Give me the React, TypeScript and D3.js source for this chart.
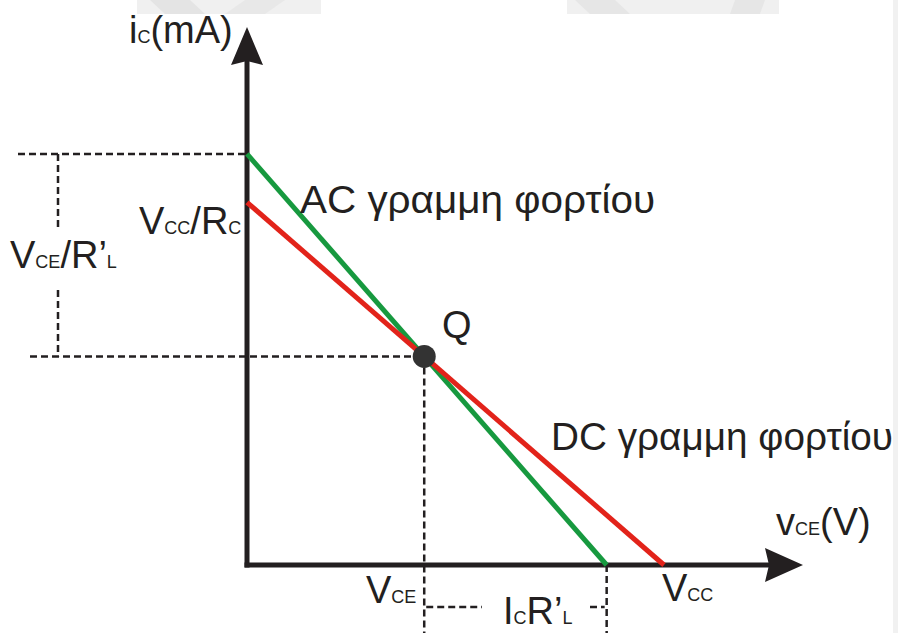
import React from "react";
import * as d3 from "d3";

// Operating point and load-line intercepts (V on the horizontal axis, mA on the vertical)
const axisMax = { v: 16, i: 8.9 };
const vcc = [12];
const dcIntercept = [6.0];
const acIntercept = [6.8];
const acCutoff = [10.35];
const qPoint = [{ v: 5.1, i: 3.45 }];

const dcLine = [
  { v: 0, i: dcIntercept[0] },
  { v: vcc[0], i: 0 },
];
const acLine = [
  { v: 0, i: acIntercept[0] },
  { v: acCutoff[0], i: 0 },
];

const W = 898;
const H = 633;
const FONT = "'Liberation Sans', Arial, sans-serif";
const INK = "#231f20";
const BIG = 38;
const SUB = 18;

export default function App() {
  const x = d3.scaleLinear().domain([0, axisMax.v]).range([247, 803]);
  const y = d3.scaleLinear().domain([0, axisMax.i]).range([565, 27]);
  const line = d3
    .line<{ v: number; i: number }>()
    .x((d) => x(d.v))
    .y((d) => y(d.i));

  const x0 = x(0);
  const y0 = y(0);
  const xEnd = x(axisMax.v);
  const yEnd = y(axisMax.i);
  const q = qPoint[0];
  const qx = x(q.v);
  const qy = y(q.i);
  const acTop = y(acIntercept[0]);
  const acX = x(acCutoff[0]);
  const dash = "7 4";

  return (
    <svg
      width={W}
      height={H}
      style={{ position: "absolute", left: 0, top: 0, background: "#fff" }}
      fontFamily={FONT}
      fill={INK}
    >
      {/* faint background watermark */}
      <g opacity={0.9}>
        <rect x={137} y={0} width={184} height={14} fill="#efefef" />
        <polygon points="150,0 190,0 205,14 165,14" fill="#e2e2e2" />
        <polygon points="245,0 285,0 265,14 225,14" fill="#e6e6e6" />
        <rect x={567} y={0} width={212} height={14} fill="#efefef" />
        <polygon points="575,0 615,0 630,14 590,14" fill="#e4e4e4" />
        <polygon points="735,0 765,0 760,14 730,14" fill="#e4e4e4" />
        <rect x={893} y={0} width={5} height={633} fill="#f0f0f0" />
      </g>

      {/* guide lines */}
      <g stroke={INK} strokeWidth={2.5} strokeDasharray={dash} fill="none">
        <line x1={18} y1={acTop} x2={x0} y2={acTop} />
        <line x1={30} y1={qy} x2={qx} y2={qy} />
        <line x1={58} y1={acTop} x2={58} y2={230} />
        <line x1={58} y1={290} x2={58} y2={qy} />
        <line x1={qx} y1={qy} x2={qx} y2={H} />
        <line x1={acX} y1={y0} x2={acX} y2={H} />
        <line x1={qx + 2} y1={607} x2={482} y2={607} />
        <line x1={590} y1={607} x2={acX - 2} y2={607} />
      </g>

      {/* axes */}
      <g stroke={INK} strokeWidth={5} fill="none">
        <line x1={x0} y1={y0 + 2.5} x2={x0} y2={yEnd + 30} />
        <line x1={x0 - 2.5} y1={y0} x2={xEnd - 30} y2={y0} />
      </g>
      <path
        d={`M${x0},${yEnd} L${x0 + 16},${yEnd + 38} L${x0},${yEnd + 34} L${x0 - 16},${yEnd + 38} Z`}
        fill={INK}
      />
      <path
        d={`M${xEnd},${y0} L${xEnd - 38},${y0 + 17} L${xEnd - 34},${y0} L${xEnd - 38},${y0 - 17} Z`}
        fill={INK}
      />

      {/* load lines */}
      <path d={line(acLine) ?? ""} stroke="#17993f" strokeWidth={5} fill="none" />
      <path d={line(dcLine) ?? ""} stroke="#e2231a" strokeWidth={5} fill="none" />

      {/* Q point */}
      <circle cx={qx} cy={qy} r={11.5} fill="#333" />

      {/* labels */}
      <g fontSize={BIG}>
        <text x={129} y={43}>
          i<tspan fontSize={SUB}>C</tspan>(mA)
        </text>
        <text x={776} y={535}>
          v<tspan fontSize={SUB}>CE</tspan>(V)
        </text>
        <text x={139} y={234}>
          V<tspan fontSize={SUB}>CC</tspan>/R<tspan fontSize={SUB}>C</tspan>
        </text>
        <text x={10} y={268}>
          V<tspan fontSize={SUB}>CE</tspan>/R’<tspan fontSize={SUB}>L</tspan>
        </text>
        <text x={300} y={213} textLength={355} lengthAdjust="spacingAndGlyphs">
          AC γραμμη φορτίου
        </text>
        <text x={551} y={450} textLength={342} lengthAdjust="spacingAndGlyphs">
          DC γραμμη φορτίου
        </text>
        <text x={442} y={338}>Q</text>
        <text x={366} y={603}>
          V<tspan fontSize={SUB}>CE</tspan>
        </text>
        <text x={662} y={601}>
          V<tspan fontSize={SUB}>CC</tspan>
        </text>
        <text x={503} y={624}>
          I<tspan fontSize={SUB}>C</tspan>R’<tspan fontSize={SUB}>L</tspan>
        </text>
      </g>
    </svg>
  );
}
